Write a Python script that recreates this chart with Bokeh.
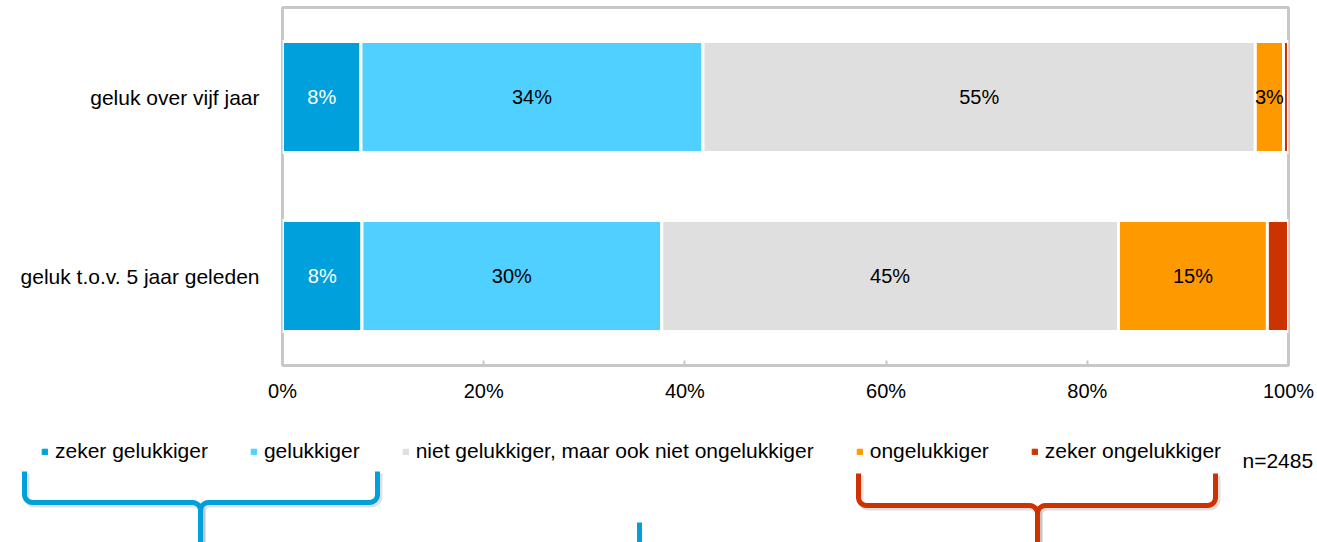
import numpy as np
from bokeh.plotting import figure
from bokeh.models import (ColumnDataSource, FactorRange, Range1d, Legend, LegendItem,
                          Label, FixedTicker, PrintfTickFormatter)
from bokeh.layouts import column
from bokeh.embed import file_html
from bokeh.resources import INLINE
from bokeh.core.properties import value

# ---------------- data ----------------
categories = ["geluk t.o.v. 5 jaar geleden", "geluk over vijf jaar"]
series = ["zeker gelukkiger", "gelukkiger",
          "niet gelukkiger, maar ook niet ongelukkiger",
          "ongelukkiger", "zeker ongelukkiger"]
zeker_gelukkiger = [7.9, 7.8]
gelukkiger = [29.8, 34.0]
neutraal = [45.4, 54.9]
ongelukkiger = [14.8, 2.8]
zeker_ongelukkiger = [2.1, 0.5]
x_ticks = [0, 20, 40, 60, 80, 100]
sample_note = "n=2485"

colors = ["#00A0DC", "#50D0FF", "#DFDFDF", "#FF9900", "#CC3300"]
label_colors = ["white", "black", "black", "black", "black"]
FONT = "Liberation Sans"

values = [zeker_gelukkiger, gelukkiger, neutraal, ongelukkiger, zeker_ongelukkiger]
keys = ["s%d" % i for i in range(len(series))]
data = {"cat": categories}
for k, v in zip(keys, values):
    data[k] = v
src = ColumnDataSource(data)

# ---------------- main chart ----------------
p = figure(width=1317, height=408,
           y_range=FactorRange(factors=categories), x_range=Range1d(0, 100),
           output_backend="svg", toolbar_location=None,
           min_border_left=282, min_border_right=29, min_border_top=7,
           min_border_bottom=43)
p.frame_align = False
p.grid.visible = False
p.outline_line_color = "#C8C8C8"
p.outline_line_width = 3

p.hbar_stack(keys, y="cat", height=0.62, color=colors, source=src,
             line_color="white", line_width=3)

# labels inside segments
lx, ly, lt, lc = [], [], [], []
for ci, cat in enumerate(categories):
    cum = 0.0
    for si, v in enumerate(values):
        val = v[ci]
        if val >= 2.5:
            lx.append(cum + val / 2)
            ly.append(cat)
            lt.append("%d%%" % round(val))
            lc.append(label_colors[si])
        cum += val
lsrc = ColumnDataSource(dict(x=lx, y=ly, text=lt, color=lc))
p.text(x="x", y="y", text="text", text_color="color", source=lsrc,
       text_align="center", text_baseline="middle",
       text_font=value(FONT), text_font_size=value("20px"))

xa = p.xaxis[0]
xa.ticker = FixedTicker(ticks=x_ticks)
xa.formatter = PrintfTickFormatter(format="%d%%")
xa.axis_line_color = None
xa.major_tick_in = 5
xa.major_tick_out = 0
xa.major_tick_line_color = "#C8C8C8"
xa.major_tick_line_width = 2
xa.minor_tick_line_color = None
xa.major_label_standoff = 14
xa.major_label_text_font = FONT
xa.major_label_text_font_size = "20px"
xa.major_label_text_color = "black"

ya = p.yaxis[0]
ya.axis_line_color = None
ya.major_tick_line_color = None
ya.minor_tick_line_color = None
ya.major_label_standoff = 17
ya.major_label_text_font = FONT
ya.major_label_text_font_size = "21px"
ya.major_label_text_color = "black"

# ---------------- legend / braces panel ----------------
H2 = 134
p2 = figure(width=1317, height=H2, x_range=Range1d(0, 1317), y_range=Range1d(0, H2),
            output_backend="svg", toolbar_location=None,
            x_axis_location=None, y_axis_location=None, min_border=0)
p2.frame_align = False
p2.grid.visible = False
p2.outline_line_color = None

items = []
for s, c in zip(series, colors):
    # legend proxy, positioned outside the visible range
    r = p2.hbar(y=[-100], right=[-100], height=1, color=c)
    items.append(LegendItem(label=s, renderers=[r]))
legend = Legend(items=items, orientation="horizontal", location=(41, 79),
                glyph_width=7, glyph_height=7, label_standoff=7, spacing=42,
                padding=0, margin=0, border_line_alpha=0, background_fill_alpha=0,
                label_text_font=FONT, label_text_font_size="21px",
                label_text_color="black")
p2.add_layout(legend)

p2.add_layout(Label(x=1242, y=82, text=sample_note, text_font=FONT,
                    text_font_size="21px", text_color="black",
                    text_baseline="middle", text_align="left"))


def brace(x0, x1, xc, ytop, ybar, ybot, r=8):
    t = np.linspace(0, np.pi / 2, 8)
    lxs = [x0] + list(x0 + r - r * np.cos(t)) + list(xc - r + r * np.sin(t)) + [xc]
    lys = [ytop] + list(ybar + r - r * np.sin(t)) + list(ybar - r + r * np.cos(t)) + [ybot]
    rxs = [x1] + list(x1 - r + r * np.cos(t)) + list(xc + r - r * np.sin(t)) + [xc]
    rys = [ytop] + list(ybar + r - r * np.sin(t)) + list(ybar - r + r * np.cos(t)) + [ybot]
    return [lxs, rxs], [lys, rys]


for (x0, x1, xc, yt, yb, col) in [(24, 377, 200, 71, 40, "#00A0DC"),
                                  (858, 1215, 1037, 69, 37, "#CC3300")]:
    xs, ys = brace(x0, x1, xc, yt, yb, -6)
    p2.multi_line([[x + 2 for x in a] for a in xs], [[y - 2 for y in a] for a in ys],
                  line_color="black", line_alpha=0.12, line_width=6)
    p2.multi_line(xs, ys, line_color=col, line_width=5, line_join="round")

p2.line([639, 639], [20, -6], line_color="#00A0DC", line_width=5)

layout = column(p, p2, spacing=0)
open("out.html", "w").write(file_html(layout, INLINE))
